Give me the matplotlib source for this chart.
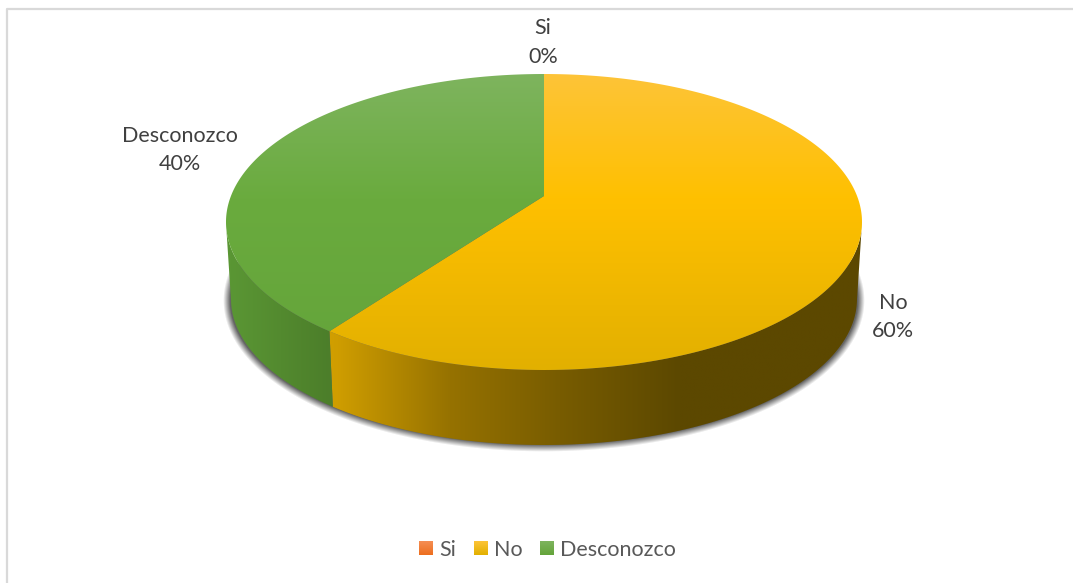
"""
Tilted 3D-look pie chart with shaded rim, soft shadow and a bottom legend.
"""
import numpy as np
from matplotlib import pyplot as plt
from matplotlib.patches import Polygon, Rectangle

categories = ["Si", "No", "Desconozco"]
shares = [0, 60, 40]

top_stops = {
    "Si": [(245, 142, 84), (237, 110, 30)],
    "No": [(253, 196, 56), (255, 192, 0), (226, 176, 0)],
    "Desconozco": [(126, 180, 94), (106, 171, 62), (100, 164, 58)],
}
top_pos = {
    "Si": [0, 1],
    "No": [0, 0.42, 1],
    "Desconozco": [0, 0.42, 1],
}
wall_stops = {
    "Si": [(170, 80, 20), (170, 80, 20)],
    "No": [(208, 158, 0), (150, 114, 0), (120, 92, 0), (92, 72, 0), (92, 72, 0)],
    "Desconozco": [(90, 150, 52), (76, 126, 42)],
}
wall_x = {
    "Si": [544, 545],
    "No": [335, 450, 560, 680, 860],
    "Desconozco": [232, 330],
}

WIDTH, HEIGHT = 1073, 583
CX, CY, RX, RY = 544, 222, 318, 148
LOW_CY, LOW_RX, LOW_RY = 299, 313, 146
# how far the perspective pushes the pie centre away from the ellipse centre
TILT = 0.176


def project(theta):
    """Map pie angles (clockwise from 12 o'clock, radians) to the unit ellipse."""
    u, v = np.sin(theta), np.cos(theta)
    den = 1 + TILT * v
    return u * np.sqrt(1 - TILT ** 2) / den, (v + TILT) / den


def upper(theta):
    u, v = project(theta)
    return np.column_stack([CX + RX * u, CY - RY * v])


def lower(theta):
    u, v = project(theta)
    return np.column_stack([CX + LOW_RX * u, LOW_CY - LOW_RY * v])


def gradient(ax, stops, bounds, clip, positions=None, vertical=True):
    """Fill a polygon with a linear colour ramp."""
    x0, x1, y0, y1 = bounds
    n = 256
    if vertical:
        t = np.linspace(0, 1, n)
    else:
        t = np.linspace(x0, x1, n)
    if positions is None:
        positions = np.linspace(0, 1, len(stops))
    ramp = np.array([np.interp(t, positions, [s[i] for s in stops]) for i in range(3)]).T / 255
    img = ramp[:, None, :] if vertical else ramp[None, :, :]
    im = ax.imshow(img, extent=[x0, x1, y1, y0], aspect="auto", interpolation="bilinear", zorder=clip.get_zorder())
    ax.add_patch(clip)
    clip.set_visible(False)
    im.set_clip_path(clip)


def draw_shadow(ax):
    yy, xx = np.mgrid[0:HEIGHT, 0:WIDTH]
    dx, dy = xx + 0.5 - CX, yy + 0.5 - 300.5
    rx, ry = 318, 148.5
    r = np.sqrt((dx / rx) ** 2 + (dy / ry) ** 2) + 1e-6
    grad = np.sqrt((dx / rx ** 2) ** 2 + (dy / ry ** 2) ** 2) / r + 1e-9
    dist = (r - 1) / grad
    rgba = np.zeros((HEIGHT, WIDTH, 4))
    rgba[..., :3] = 0.25
    rgba[..., 3] = 0.8 * np.clip(0.4 - dist / 7, 0, 1)
    ax.imshow(rgba, extent=[0, WIDTH, HEIGHT, 0], aspect="auto", zorder=1)


fig = plt.figure(figsize=(WIDTH / 100, HEIGHT / 100), dpi=100)
plt.rcParams["font.family"] = ["Lato", "DejaVu Sans"]
ax = fig.add_axes([0, 0, 1, 1])
ax.axis("off")

# chart frame, open on the right and at the bottom
ax.plot([6.5, 6.5, WIDTH], [HEIGHT, 8.5, 8.5], color="#d9d9d9", lw=1.6, zorder=0)
draw_shadow(ax)

edges = np.radians(np.cumsum([0] + shares) * 3.6)
apex = np.array([CX, CY - RY * TILT])

for name, a0, a1 in zip(categories, edges[:-1], edges[1:]):
    if a1 <= a0:
        continue
    theta = np.linspace(a0, a1, 240)

    # rim wall only on the side facing the viewer
    u, v = project(theta)
    front = v <= 0
    if front.any():
        f = theta[front]
        wall = np.vstack([upper(f), lower(f)[::-1]])
        gradient(ax, wall_stops[name],
                 (wall[:, 0].min(), wall[:, 0].max(), wall[:, 1].min(), wall[:, 1].max()),
                 Polygon(wall, closed=True, zorder=2), positions=wall_x[name], vertical=False)

    face = np.vstack([apex, upper(theta)])
    gradient(ax, top_stops[name], (CX - RX, CX + RX, CY - RY, CY + RY),
             Polygon(face, closed=True, zorder=3), positions=top_pos[name])

# data labels
label_pos = {"Si": (543, 42.5), "No": (893, 317), "Desconozco": (180, 150)}
for name, share in zip(categories, shares):
    x, y = label_pos[name]
    ax.text(x, y, f"{name}\n{share}%", ha="center", va="center", fontsize=15.5,
            color="#404040", linespacing=1.55, zorder=5)

# legend
legend_x = {"Si": 419, "No": 474, "Desconozco": 540}
for name in categories:
    x = legend_x[name]
    stops = top_stops[name]
    gradient(ax, [stops[0], stops[-1]], (x, x + 14, 541, 555),
             Rectangle((x, 541), 14, 14, zorder=4))
    ax.text(x + 20, 548, name, ha="left", va="center_baseline", fontsize=15.5, color="#595959", zorder=5)

ax.set_xlim(0, WIDTH)
ax.set_ylim(HEIGHT, 0)
fig.savefig("out.png", dpi=100, facecolor="white")
